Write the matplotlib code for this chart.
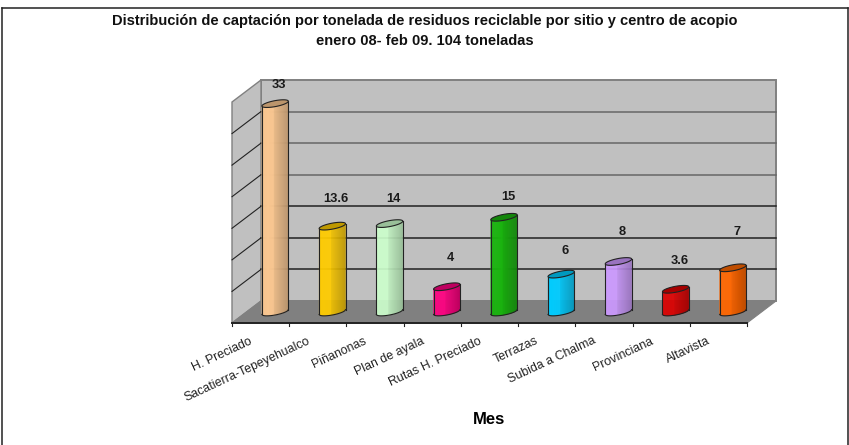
import numpy as np
import matplotlib
matplotlib.use("Agg")
import matplotlib.pyplot as plt
from matplotlib.patches import Polygon
from matplotlib.lines import Line2D
from matplotlib.colors import to_rgb

plt.rcParams['font.family'] = ['Liberation Sans', 'DejaVu Sans']

categories = ["H. Preciado", "Sacatierra-Tepeyehualco", "Piñanonas", "Plan de ayala",
              "Rutas H. Preciado", "Terrazas", "Subida a Chalma", "Provinciana", "Altavista"]
values = [33, 13.6, 14, 4, 15, 6, 8, 3.6, 7]
value_labels = ["33", "13.6", "14", "4", "15", "6", "8", "3.6", "7"]
colors = ["#F9C690", "#FFCC00", "#CCFFCC", "#FF0080", "#1AB30F", "#00CCFF", "#CC99FF", "#DD0000", "#FF6600"]
label_gaps_px = [19, 27, 25, 29, 20, 23, 29.5, 28, 36]
title_lines = ["Distribución de captación por tonelada de residuos reciclable por sitio y centro de acopio",
               "enero 08- feb 09. 104 toneladas"]
xlabel = "Mes"
y_max = 35
y_step = 5

W, H = 849, 445
fig = plt.figure(figsize=(W / 100, H / 100), dpi=100, facecolor="white")

# frame (open at the bottom, as in the cropped original)
for xs, ys in [((1.5, 1.5), (7.5, 445)), ((1.5, 847.5), (7.5, 7.5)), ((847.5, 847.5), (7.5, 445))]:
    fig.add_artist(Line2D([x / W for x in xs], [1 - y / H for y in ys], transform=fig.transFigure,
                          color="#222222", lw=1.1))

# front plane of the 3-D box
L, R, T, B = 232, 747, 102, 323
ax = fig.add_axes([L / W, 1 - B / H, (R - L) / W, (B - T) / H])
ax.set_xlim(0, len(categories))
ax.set_ylim(0, y_max)
ax.axis("off")
ux = (R - L) / len(categories)   # px per x unit
uy = (B - T) / y_max             # px per y unit
dx, dy = 29 / ux, 22 / uy        # box depth in data units
n = len(categories)

# walls
ax.add_patch(Polygon([(dx, dy), (n + dx, dy), (n + dx, y_max + dy), (dx, y_max + dy)],
                     fc="#C0C0C0", ec="#808080", lw=1.4, clip_on=False, zorder=1))
ax.add_patch(Polygon([(0, 0), (dx, dy), (dx, y_max + dy), (0, y_max)],
                     fc="#C0C0C0", ec="#808080", lw=1.0, clip_on=False, zorder=1))
ax.add_patch(Polygon([(0, 0), (n, 0), (n + dx, dy), (dx, dy)],
                     fc="#808080", ec="#808080", lw=0.8, clip_on=False, zorder=1))

# gridlines
for v in np.arange(y_step, y_max, y_step):
    c = "#666666" if v >= 20 else "#222222"
    ax.plot([dx, n + dx], [v + dy, v + dy], color=c, lw=1.1, clip_on=False, zorder=2)
    ax.plot([0, dx], [v, v + dy], color="#222222", lw=0.8, clip_on=False, zorder=2)

# front axis and ticks
ax.plot([0, n], [0, 0], color="#222222", lw=1.4, clip_on=False, zorder=3)
for i in range(n + 1):
    ax.plot([i, i], [0, -3 / uy], color="#222222", lw=0.8, clip_on=False, zorder=3)


def shade(c, f):
    return tuple(np.clip(np.array(to_rgb(c)) * f, 0, 1))


# cylinders placed half-way through the depth
half_w = 13.2 / ux
rise = 2.4 / uy      # tilt of the ellipse
minor = 3.0 / uy
t = np.linspace(0, 2 * np.pi, 60)
base = dy / 2


def low(u, yy):
    return yy + rise * u - minor * np.sqrt(np.clip(1 - u * u, 0, 1))


for i, (v, col) in enumerate(zip(values, colors)):
    xc = i + 0.5 + dx / 2
    y0, y1 = base, base + v
    edges = np.linspace(-1, 1, 27)
    for a, b in zip(edges[:-1], edges[1:]):
        m = (a + b) / 2
        f = 1.0 if m < -0.1 else 0.95 - 0.2 * (m + 0.1) / 1.1
        ax.add_patch(Polygon([(xc + a * half_w, low(a, y0)), (xc + b * half_w, low(b, y0)),
                              (xc + b * half_w, low(b, y1)), (xc + a * half_w, low(a, y1))],
                             fc=shade(col, f), ec=shade(col, f), lw=0.3, clip_on=False, zorder=4))
    us = np.linspace(-1, 1, 40)
    ax.plot(xc + us * half_w, low(us, y0), color="#222222", lw=0.8, clip_on=False, zorder=5)
    ax.plot([xc - half_w] * 2, [y0 - rise, y1 - rise], color="#222222", lw=0.8, clip_on=False, zorder=5)
    ax.plot([xc + half_w] * 2, [y0 + rise, y1 + rise], color="#222222", lw=0.8, clip_on=False, zorder=5)
    ex = xc + half_w * np.cos(t)
    ey = y1 + rise * np.cos(t) + minor * np.sin(t)
    ax.add_patch(Polygon(np.c_[ex, ey], fc=shade(col, 0.75), ec="#222222", lw=0.8, clip_on=False, zorder=6))
    ax.text(xc + 4 / ux, y1 + label_gaps_px[i] / uy, value_labels[i], ha="center", va="center",
            fontsize=9.3, fontweight="bold", color="#1a1a1a", zorder=7, clip_on=False)

# category labels
for i, c in enumerate(categories):
    ax.annotate(c, xy=(i + 0.5, 0), xytext=(-11.5 * 0.72, -12 * 0.72), textcoords="offset points",
                rotation=25, rotation_mode="anchor", ha="right", va="top", fontsize=8.9, color="#222222",
                annotation_clip=False)

fig.text(424.5 / W, 1 - 21 / H, title_lines[0], ha="center", va="center", fontsize=10.55, fontweight="bold", color="#111111")
fig.text(424.5 / W, 1 - 41 / H, title_lines[1], ha="center", va="center", fontsize=10.55, fontweight="bold", color="#111111")
fig.text(489 / W, 1 - 420 / H, xlabel, ha="center", va="center", fontsize=12, fontweight="bold", color="black")

fig.savefig("out.png", dpi=100, facecolor="white")
